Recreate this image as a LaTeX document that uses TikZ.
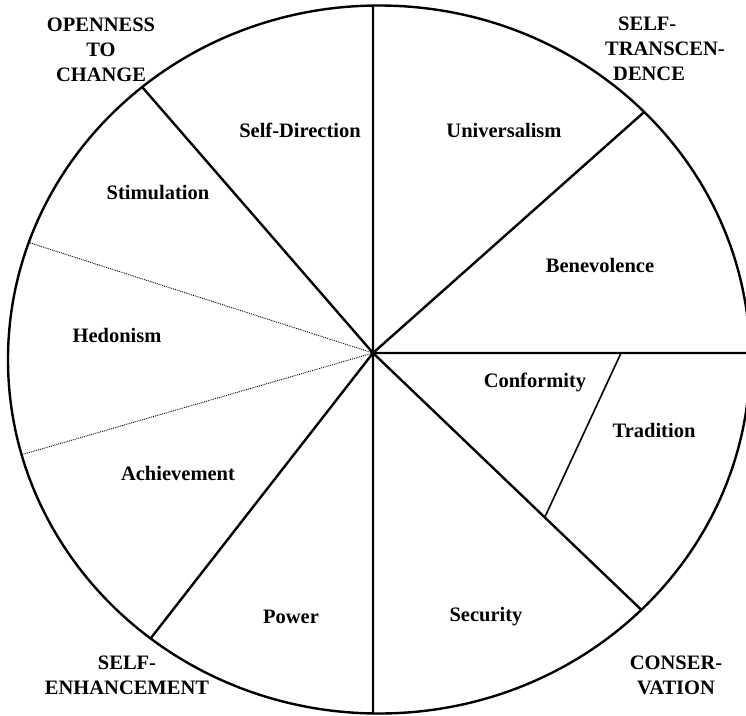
\documentclass[tikz,border=0pt]{standalone}
\usepackage{fontspec}
\setmainfont{Liberation Serif}
\usetikzlibrary{calc}

\begin{document}
\begin{tikzpicture}[x=1pt,y=-1pt]
\tikzstyle{every path}=[line width=2.4pt]
\tikzstyle{value}=[font=\fontsize{20.5}{25}\selectfont\bfseries,inner sep=0pt]
\tikzstyle{motive}=[value,align=center]
\tikzstyle{split}=[line width=0.9pt,densely dotted]
\tikzstyle{inner split}=[line width=1.6pt]

\useasboundingbox (0,0) rectangle (746,715);

%% Draw the circle
\coordinate (rim) at (379,359.5);
\draw (rim) ellipse [x radius=371, y radius=354];

%% Spoke ends on the circle
\coordinate (hub) at (373,353);
\coordinate (north) at ($(rim)+(-90.93:371 and 354)$);
\coordinate (south) at ($(rim)+(90.93:371 and 354)$);
\coordinate (nw) at ($(rim)+(-129.67:371 and 354)$);
\coordinate (ne) at ($(rim)+(-44.37:371 and 354)$);
\coordinate (east) at ($(rim)+(-1.05:371 and 354)$);
\coordinate (se) at ($(rim)+(45:371 and 354)$);
\coordinate (sw) at ($(rim)+(128:371 and 354)$);
\coordinate (wnw) at ($(rim)+(-160.7:371 and 354)$);
\coordinate (wsw) at ($(rim)+(164.4:371 and 354)$);

%% Draw spokes
\draw (hub) -- (north);
\draw (hub) -- (south);
\draw (hub) -- (nw);
\draw (hub) -- (ne);
\draw (hub) -- (east);
\draw (hub) -- (se);
\draw (hub) -- (sw);
\draw [split] (hub) -- (wnw);
\draw [split] (hub) -- (wsw);

%% Conformity / Tradition
\coordinate (ct1) at ($(hub)!0.658!(east)$);
\coordinate (ct2) at ($(hub)!0.64!(se)$);
\draw [inner split] (ct1) -- (ct2);

%% Values
\node [value] (selfdir) at (300,130) {Self-Direction};
\node [value] (univ) at (504,130) {Universalism};
\node [value] (stim) at (158,193) {Stimulation};
\node [value] (benev) at (600,265) {Benevolence};
\node [value] (hedon) at (117,335) {Hedonism};
\node [value] (conf) at (535,382) {Conformity};
\node [value] (trad) at (654,430) {Tradition};
\node [value] (achiev) at (178,473) {Achievement};
\node [value] (power) at (291,617) {Power};
\node [value] (secur) at (486,617) {Security};

%% Higher order types
\node [motive] (open) at (101,50) {OPENNESS\\TO\\CHANGE};
\node [motive,align=left] (trans) at (665,49) {\hspace*{13pt}SELF-\\TRANSCEN-\\\hspace*{8pt}DENCE};
\node [motive] (enhance) at (127,675) {SELF-\\ENHANCEMENT};
\node [motive] (conserv) at (676,675) {CONSER-\\VATION};
\end{tikzpicture}
\end{document}
